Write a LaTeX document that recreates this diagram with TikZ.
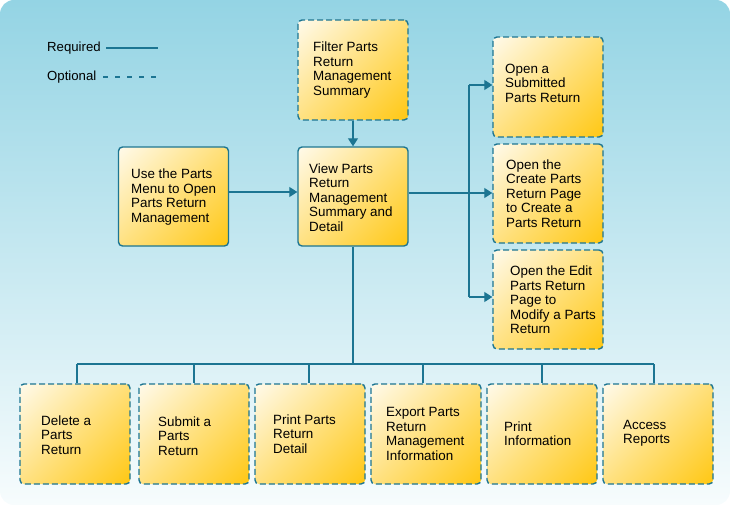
\documentclass[tikz,border=0pt]{standalone}
\usepackage{fontspec}
\setmainfont{Liberation Sans}
\usetikzlibrary{arrows.meta}
\definecolor{bgtop}{HTML}{94D4E4}
\definecolor{bgbot}{HTML}{F7FCFD}
\definecolor{edge}{HTML}{1C7592}
\definecolor{gold}{HTML}{FFC300}
\definecolor{midy}{HTML}{FFE07C}
\definecolor{paleg}{HTML}{FFFFFF}
\pgfdeclareverticalshading{boxshade}{100bp}{color(0bp)=(gold); color(8bp)=(gold); color(50bp)=(midy); color(92bp)=(paleg); color(100bp)=(paleg)}
\tikzset{
  bx/.style={rounded corners=4pt, draw=edge, line width=1.4pt,
    shading=boxshade, shading angle=45,
    minimum width=110pt, minimum height=100pt, inner sep=0pt},
  txt/.style={align=left, anchor=west, inner sep=0pt,
    font=\fontsize{13.4}{14.4}\selectfont},
  req/.style={solid},
  opt/.style={dash pattern=on 6pt off 3pt},
  conn/.style={draw=edge, line width=1.3pt},
  arr/.style={conn, -{Triangle[length=8pt,width=10pt]}},
  lbl/.style={font=\fontsize{13.2}{14.4}\selectfont, anchor=west, inner sep=0pt}
}
\begin{document}
\begin{tikzpicture}[x=1pt,y=-1pt]
\useasboundingbox (0,0) rectangle (730,505);
\shade[top color=bgtop, bottom color=bgbot, rounded corners=14pt] (0,0) rectangle (730,505);
% legend
\node[lbl] (lreq) at (47,48) {Required};
\node[lbl] (lopt) at (47,77) {Optional};
\coordinate (r1) at (106,48); \coordinate (r2) at (158,48);
\coordinate (o1) at (103,77); \coordinate (o2) at (158,77);
\draw[conn] (r1) -- (r2);
\draw[conn, dash pattern=on 5pt off 7pt] (o1) -- (o2);
% top boxes
\node[bx, opt] (filter) at (353,70) {};
\node[txt] (filtert) at (313,70) {Filter Parts\\Return\\Management\\Summary};
\node[bx, req, minimum height=99pt] (use) at (173.5,196.5) {};
\node[txt] (uset) at (131,197) {Use the Parts\\Menu to Open\\Parts Return\\Management};
\node[bx, req, minimum height=99pt] (view) at (353,196.5) {};
\node[txt] (viewt) at (309,197.5) {View Parts\\Return\\Management\\Summary and\\Detail};
\node[bx, opt] (sub) at (548,87) {};
\node[txt] (subt) at (505,83) {Open a\\Submitted\\Parts Return};
\node[bx, opt, minimum height=99pt] (create) at (548,193.5) {};
\node[txt] (createt) at (506,193.5) {Open the\\Create Parts\\Return Page\\to Create a\\Parts Return};
\node[bx, opt, minimum height=99pt] (edit) at (548,299.5) {};
\node[txt] (editt) at (510,300) {Open the Edit\\Parts Return\\Page to\\Modify a Parts\\Return};
% bottom boxes
\node[bx, opt] (del) at (75,434) {};
\node[txt] (delt) at (41,435) {Delete a\\Parts\\Return};
\node[bx, opt] (submit) at (194,434) {};
\node[txt] (submitt) at (158,436) {Submit a\\Parts\\Return};
\node[bx, opt] (print) at (310,434) {};
\node[txt] (printt) at (273,434) {Print Parts\\Return\\Detail};
\node[bx, opt] (export) at (426,434) {};
\node[txt] (exportt) at (386,434) {Export Parts\\Return\\Management\\Information};
\node[bx, opt] (pinfo) at (542,434) {};
\node[txt] (pinfot) at (504,434) {Print\\Information};
\node[bx, opt] (access) at (658,434) {};
\node[txt] (accesst) at (623,433) {Access\\Reports};
% connectors
\draw[arr] (filter) -- (view);
\draw[arr] (use.east |- 0,192) -- (view.west |- 0,192);
\coordinate (rj) at (469,193);
\coordinate (rt) at (469,85);
\coordinate (rb) at (469,297);
\draw[conn] (view.east |- rj) -- (rj);
\draw[conn] (rt) -- (rb);
\draw[arr] (rt) -- (sub.west |- rt);
\draw[arr] (rj) -- (create.west |- rj);
\draw[arr] (rb) -- (edit.west |- rb);
\coordinate (bj) at (353,364);
\coordinate (bl) at (77,364);
\coordinate (br) at (654,364);
\draw[conn] (view.south) -- (bj);
\draw[conn] (bl) -- (br);
\draw[conn] (bl) -- (del.north -| bl);
\draw[conn] (194,364) -- (submit.north);
\draw[conn] (309,364) -- (print.north -| 309,0);
\draw[conn] (423,364) -- (export.north -| 423,0);
\draw[conn] (542,364) -- (pinfo.north);
\draw[conn] (br) -- (access.north -| br);
\end{tikzpicture}
\end{document}
